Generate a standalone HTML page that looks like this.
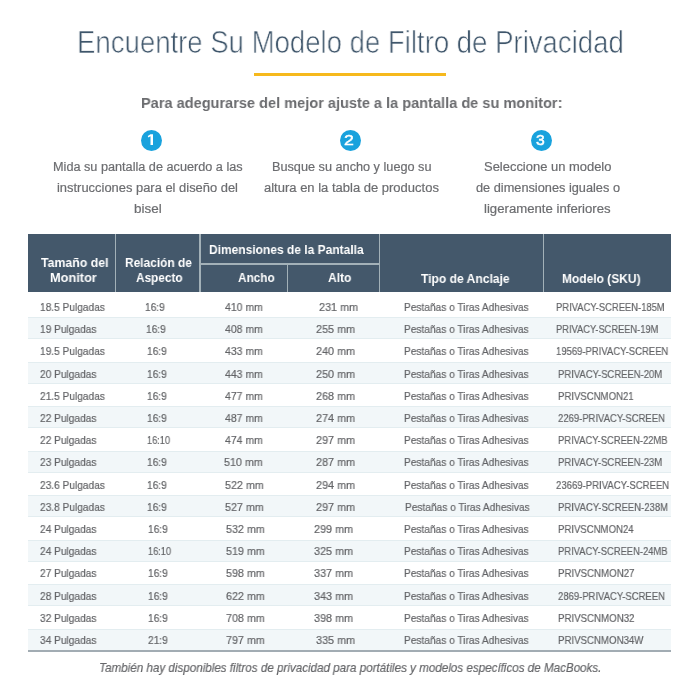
<!DOCTYPE html>
<html><head><meta charset="utf-8"><style>
html,body{margin:0;padding:0;background:#fff;width:700px;height:700px;overflow:hidden;position:relative}
.t{position:absolute;white-space:nowrap;line-height:40px;font-family:'Liberation Sans', sans-serif;transform-origin:0 0;will-change:transform}
.circ{position:absolute;width:21px;height:21px;border-radius:50%;background:#19a2dd;color:#fff;font-family:'Liberation Sans', sans-serif;font-weight:700;font-size:15.5px;line-height:22px;text-align:center}
</style></head><body>
<div style="position:absolute;left:254px;top:73.2px;width:192px;height:2.6px;background:#f6b91d"></div>
<div class="circ" style="left:141px;top:130px"><svg width="21" height="21" viewBox="0 0 21 21" style="position:absolute;left:0;top:0"><path d="M9.5 4.3 L12.0 4.3 L12.0 15.1 L9.5 15.1 L9.5 6.2 L7.2 7.4 L6.8 5.9 Z" fill="#fff"/></svg></div>
<div class="circ" style="left:339.5px;top:130px"></div>
<div class="circ" style="left:531px;top:130px"></div>
<div style="position:absolute;left:28px;top:233.6px;width:642.6px;height:58.9px;background:#44586b"></div>
<div style="position:absolute;left:114.7px;top:233.6px;width:1.6px;height:58.9px;background:#a3b1b8"></div>
<div style="position:absolute;left:199.4px;top:233.6px;width:1.6px;height:58.9px;background:#a3b1b8"></div>
<div style="position:absolute;left:378.8px;top:233.6px;width:1.6px;height:58.9px;background:#a3b1b8"></div>
<div style="position:absolute;left:542.7px;top:233.6px;width:1.6px;height:58.9px;background:#a3b1b8"></div>
<div style="position:absolute;left:201px;top:263.1px;width:177.8px;height:1.7px;background:#a3b1b8"></div>
<div style="position:absolute;left:286.6px;top:264.8px;width:1.6px;height:27.7px;background:#a3b1b8"></div>
<div style="position:absolute;left:28px;width:643px;top:317.00px;height:22.25px;background:#f2f7f9;border-top:1px solid #e3edf0;border-bottom:1px solid #e3edf0;box-sizing:border-box"></div>
<div style="position:absolute;left:28px;width:643px;top:361.50px;height:22.25px;background:#f2f7f9;border-top:1px solid #e3edf0;border-bottom:1px solid #e3edf0;box-sizing:border-box"></div>
<div style="position:absolute;left:28px;width:643px;top:406.00px;height:22.25px;background:#f2f7f9;border-top:1px solid #e3edf0;border-bottom:1px solid #e3edf0;box-sizing:border-box"></div>
<div style="position:absolute;left:28px;width:643px;top:450.50px;height:22.25px;background:#f2f7f9;border-top:1px solid #e3edf0;border-bottom:1px solid #e3edf0;box-sizing:border-box"></div>
<div style="position:absolute;left:28px;width:643px;top:495.00px;height:22.25px;background:#f2f7f9;border-top:1px solid #e3edf0;border-bottom:1px solid #e3edf0;box-sizing:border-box"></div>
<div style="position:absolute;left:28px;width:643px;top:539.50px;height:22.25px;background:#f2f7f9;border-top:1px solid #e3edf0;border-bottom:1px solid #e3edf0;box-sizing:border-box"></div>
<div style="position:absolute;left:28px;width:643px;top:584.00px;height:22.25px;background:#f2f7f9;border-top:1px solid #e3edf0;border-bottom:1px solid #e3edf0;box-sizing:border-box"></div>
<div style="position:absolute;left:28px;width:643px;top:628.50px;height:22.25px;background:#f2f7f9;border-top:1px solid #e3edf0;border-bottom:1px solid #e3edf0;box-sizing:border-box"></div>
<div style="position:absolute;left:28px;top:650px;width:643px;height:1.8px;background:#a2acb3"></div>
<div class="t" style="left:76.82px;top:22.60px;font-size:31px;font-weight:400;font-style:normal;color:#3f566b;transform:scaleX(0.8887);-webkit-text-stroke:0.7px #fff;">Encuentre Su Modelo de Filtro de Privacidad</div>
<div class="t" style="left:141.26px;top:82.60px;font-size:15.5px;font-weight:700;font-style:normal;color:#6b6c6f;transform:scaleX(0.9389);">Para adegurarse del mejor ajuste a la pantalla de su monitor:</div>
<div class="t" style="left:343.96px;top:120.20px;font-size:15.5px;font-weight:400;font-style:normal;color:#ffffff;transform:scaleX(1.1429);-webkit-text-stroke:0.5px #fff;">2</div>
<div class="t" style="left:535.99px;top:120.10px;font-size:15.5px;font-weight:400;font-style:normal;color:#ffffff;transform:scaleX(1.0143);-webkit-text-stroke:0.5px #fff;">3</div>
<div class="t" style="left:52.59px;top:146.70px;font-size:12.5px;font-weight:400;font-style:normal;color:#6c6d70;transform:scaleX(1.0145);-webkit-text-stroke:0.2px currentColor;">Mida su pantalla de acuerdo a las</div>
<div class="t" style="left:57.27px;top:168.20px;font-size:12.5px;font-weight:400;font-style:normal;color:#6c6d70;transform:scaleX(1.0335);-webkit-text-stroke:0.2px currentColor;">instrucciones para el diseño del</div>
<div class="t" style="left:134.03px;top:189.40px;font-size:12.5px;font-weight:400;font-style:normal;color:#6c6d70;transform:scaleX(1.0750);-webkit-text-stroke:0.2px currentColor;">bisel</div>
<div class="t" style="left:271.58px;top:146.50px;font-size:12.5px;font-weight:400;font-style:normal;color:#6c6d70;transform:scaleX(1.0155);-webkit-text-stroke:0.2px currentColor;">Busque su ancho y luego su</div>
<div class="t" style="left:263.90px;top:167.90px;font-size:12.5px;font-weight:400;font-style:normal;color:#6c6d70;transform:scaleX(1.0399);-webkit-text-stroke:0.2px currentColor;">altura en la tabla de productos</div>
<div class="t" style="left:483.66px;top:146.70px;font-size:12.5px;font-weight:400;font-style:normal;color:#6c6d70;transform:scaleX(1.0361);-webkit-text-stroke:0.2px currentColor;">Seleccione un modelo</div>
<div class="t" style="left:476.10px;top:167.90px;font-size:12.5px;font-weight:400;font-style:normal;color:#6c6d70;transform:scaleX(1.0206);-webkit-text-stroke:0.2px currentColor;">de dimensiones iguales o</div>
<div class="t" style="left:484.25px;top:188.90px;font-size:12.5px;font-weight:400;font-style:normal;color:#6c6d70;transform:scaleX(1.0538);-webkit-text-stroke:0.2px currentColor;">ligeramente inferiores</div>
<div class="t" style="left:40.70px;top:242.60px;font-size:13px;font-weight:700;font-style:normal;color:#ffffff;transform:scaleX(0.9465);">Tamaño del</div>
<div class="t" style="left:50.42px;top:258.00px;font-size:13px;font-weight:700;font-style:normal;color:#ffffff;transform:scaleX(0.9830);">Monitor</div>
<div class="t" style="left:125.18px;top:242.60px;font-size:13px;font-weight:700;font-style:normal;color:#ffffff;transform:scaleX(0.9167);">Relación de</div>
<div class="t" style="left:135.70px;top:257.50px;font-size:13px;font-weight:700;font-style:normal;color:#ffffff;transform:scaleX(0.9098);">Aspecto</div>
<div class="t" style="left:209.38px;top:229.90px;font-size:13px;font-weight:700;font-style:normal;color:#ffffff;transform:scaleX(0.9222);">Dimensiones de la Pantalla</div>
<div class="t" style="left:238.30px;top:257.90px;font-size:13px;font-weight:700;font-style:normal;color:#ffffff;transform:scaleX(0.9075);">Ancho</div>
<div class="t" style="left:327.90px;top:257.90px;font-size:13px;font-weight:700;font-style:normal;color:#ffffff;transform:scaleX(0.9280);">Alto</div>
<div class="t" style="left:420.90px;top:259.30px;font-size:13px;font-weight:700;font-style:normal;color:#ffffff;transform:scaleX(0.9295);">Tipo de Anclaje</div>
<div class="t" style="left:561.98px;top:258.90px;font-size:13px;font-weight:700;font-style:normal;color:#ffffff;transform:scaleX(0.9214);">Modelo (SKU)</div>
<div class="t" style="left:39.72px;top:287.20px;font-size:11.5px;font-weight:400;font-style:normal;color:#636467;transform:scaleX(0.8821);-webkit-text-stroke:0.2px currentColor;">18.5 Pulgadas</div>
<div class="t" style="left:144.62px;top:287.20px;font-size:11.5px;font-weight:400;font-style:normal;color:#636467;transform:scaleX(0.8821);-webkit-text-stroke:0.2px currentColor;">16:9</div>
<div class="t" style="left:224.90px;top:287.20px;font-size:11.5px;font-weight:400;font-style:normal;color:#636467;transform:scaleX(0.9098);-webkit-text-stroke:0.2px currentColor;">410 mm</div>
<div class="t" style="left:318.76px;top:287.20px;font-size:11.5px;font-weight:400;font-style:normal;color:#636467;transform:scaleX(0.9400);-webkit-text-stroke:0.2px currentColor;">231 mm</div>
<div class="t" style="left:404.12px;top:287.20px;font-size:11.5px;font-weight:400;font-style:normal;color:#636467;transform:scaleX(0.8821);-webkit-text-stroke:0.2px currentColor;">Pestañas o Tiras Adhesivas</div>
<div class="t" style="left:556.38px;top:287.20px;font-size:11.5px;font-weight:400;font-style:normal;color:#636467;transform:scaleX(0.8176);-webkit-text-stroke:0.2px currentColor;">PRIVACY-SCREEN-185M</div>
<div class="t" style="left:39.72px;top:309.20px;font-size:11.5px;font-weight:400;font-style:normal;color:#636467;transform:scaleX(0.8821);-webkit-text-stroke:0.2px currentColor;">19 Pulgadas</div>
<div class="t" style="left:146.02px;top:309.20px;font-size:11.5px;font-weight:400;font-style:normal;color:#636467;transform:scaleX(0.8821);-webkit-text-stroke:0.2px currentColor;">16:9</div>
<div class="t" style="left:224.60px;top:309.20px;font-size:11.5px;font-weight:400;font-style:normal;color:#636467;transform:scaleX(0.9098);-webkit-text-stroke:0.2px currentColor;">408 mm</div>
<div class="t" style="left:316.26px;top:309.20px;font-size:11.5px;font-weight:400;font-style:normal;color:#636467;transform:scaleX(0.9400);-webkit-text-stroke:0.2px currentColor;">255 mm</div>
<div class="t" style="left:404.12px;top:309.20px;font-size:11.5px;font-weight:400;font-style:normal;color:#636467;transform:scaleX(0.8821);-webkit-text-stroke:0.2px currentColor;">Pestañas o Tiras Adhesivas</div>
<div class="t" style="left:556.39px;top:309.20px;font-size:11.5px;font-weight:400;font-style:normal;color:#636467;transform:scaleX(0.8088);-webkit-text-stroke:0.2px currentColor;">PRIVACY-SCREEN-19M</div>
<div class="t" style="left:39.72px;top:331.40px;font-size:11.5px;font-weight:400;font-style:normal;color:#636467;transform:scaleX(0.8821);-webkit-text-stroke:0.2px currentColor;">19.5 Pulgadas</div>
<div class="t" style="left:146.82px;top:331.40px;font-size:11.5px;font-weight:400;font-style:normal;color:#636467;transform:scaleX(0.8821);-webkit-text-stroke:0.2px currentColor;">16:9</div>
<div class="t" style="left:224.60px;top:331.40px;font-size:11.5px;font-weight:400;font-style:normal;color:#636467;transform:scaleX(0.9098);-webkit-text-stroke:0.2px currentColor;">433 mm</div>
<div class="t" style="left:316.26px;top:331.40px;font-size:11.5px;font-weight:400;font-style:normal;color:#636467;transform:scaleX(0.9400);-webkit-text-stroke:0.2px currentColor;">240 mm</div>
<div class="t" style="left:404.12px;top:331.40px;font-size:11.5px;font-weight:400;font-style:normal;color:#636467;transform:scaleX(0.8821);-webkit-text-stroke:0.2px currentColor;">Pestañas o Tiras Adhesivas</div>
<div class="t" style="left:556.38px;top:331.40px;font-size:11.5px;font-weight:400;font-style:normal;color:#636467;transform:scaleX(0.8246);-webkit-text-stroke:0.2px currentColor;">19569-PRIVACY-SCREEN</div>
<div class="t" style="left:39.72px;top:353.60px;font-size:11.5px;font-weight:400;font-style:normal;color:#636467;transform:scaleX(0.8821);-webkit-text-stroke:0.2px currentColor;">20 Pulgadas</div>
<div class="t" style="left:146.82px;top:353.60px;font-size:11.5px;font-weight:400;font-style:normal;color:#636467;transform:scaleX(0.8821);-webkit-text-stroke:0.2px currentColor;">16:9</div>
<div class="t" style="left:224.60px;top:353.60px;font-size:11.5px;font-weight:400;font-style:normal;color:#636467;transform:scaleX(0.9098);-webkit-text-stroke:0.2px currentColor;">443 mm</div>
<div class="t" style="left:316.26px;top:353.60px;font-size:11.5px;font-weight:400;font-style:normal;color:#636467;transform:scaleX(0.9400);-webkit-text-stroke:0.2px currentColor;">250 mm</div>
<div class="t" style="left:404.12px;top:353.60px;font-size:11.5px;font-weight:400;font-style:normal;color:#636467;transform:scaleX(0.8821);-webkit-text-stroke:0.2px currentColor;">Pestañas o Tiras Adhesivas</div>
<div class="t" style="left:558.48px;top:353.60px;font-size:11.5px;font-weight:400;font-style:normal;color:#636467;transform:scaleX(0.8232);-webkit-text-stroke:0.2px currentColor;">PRIVACY-SCREEN-20M</div>
<div class="t" style="left:39.72px;top:375.80px;font-size:11.5px;font-weight:400;font-style:normal;color:#636467;transform:scaleX(0.8821);-webkit-text-stroke:0.2px currentColor;">21.5 Pulgadas</div>
<div class="t" style="left:146.82px;top:375.80px;font-size:11.5px;font-weight:400;font-style:normal;color:#636467;transform:scaleX(0.8821);-webkit-text-stroke:0.2px currentColor;">16:9</div>
<div class="t" style="left:224.60px;top:375.80px;font-size:11.5px;font-weight:400;font-style:normal;color:#636467;transform:scaleX(0.9098);-webkit-text-stroke:0.2px currentColor;">477 mm</div>
<div class="t" style="left:316.26px;top:375.80px;font-size:11.5px;font-weight:400;font-style:normal;color:#636467;transform:scaleX(0.9400);-webkit-text-stroke:0.2px currentColor;">268 mm</div>
<div class="t" style="left:404.12px;top:375.80px;font-size:11.5px;font-weight:400;font-style:normal;color:#636467;transform:scaleX(0.8821);-webkit-text-stroke:0.2px currentColor;">Pestañas o Tiras Adhesivas</div>
<div class="t" style="left:558.47px;top:375.80px;font-size:11.5px;font-weight:400;font-style:normal;color:#636467;transform:scaleX(0.8337);-webkit-text-stroke:0.2px currentColor;">PRIVSCNMON21</div>
<div class="t" style="left:39.72px;top:398.00px;font-size:11.5px;font-weight:400;font-style:normal;color:#636467;transform:scaleX(0.8821);-webkit-text-stroke:0.2px currentColor;">22 Pulgadas</div>
<div class="t" style="left:146.82px;top:398.00px;font-size:11.5px;font-weight:400;font-style:normal;color:#636467;transform:scaleX(0.8821);-webkit-text-stroke:0.2px currentColor;">16:9</div>
<div class="t" style="left:224.60px;top:398.00px;font-size:11.5px;font-weight:400;font-style:normal;color:#636467;transform:scaleX(0.9098);-webkit-text-stroke:0.2px currentColor;">487 mm</div>
<div class="t" style="left:316.26px;top:398.00px;font-size:11.5px;font-weight:400;font-style:normal;color:#636467;transform:scaleX(0.9400);-webkit-text-stroke:0.2px currentColor;">274 mm</div>
<div class="t" style="left:404.12px;top:398.00px;font-size:11.5px;font-weight:400;font-style:normal;color:#636467;transform:scaleX(0.8821);-webkit-text-stroke:0.2px currentColor;">Pestañas o Tiras Adhesivas</div>
<div class="t" style="left:558.48px;top:398.00px;font-size:11.5px;font-weight:400;font-style:normal;color:#636467;transform:scaleX(0.8242);-webkit-text-stroke:0.2px currentColor;">2269-PRIVACY-SCREEN</div>
<div class="t" style="left:39.72px;top:420.20px;font-size:11.5px;font-weight:400;font-style:normal;color:#636467;transform:scaleX(0.8821);-webkit-text-stroke:0.2px currentColor;">22 Pulgadas</div>
<div class="t" style="left:146.90px;top:420.20px;font-size:11.5px;font-weight:400;font-style:normal;color:#636467;transform:scaleX(0.8000);-webkit-text-stroke:0.2px currentColor;">16:10</div>
<div class="t" style="left:224.60px;top:420.20px;font-size:11.5px;font-weight:400;font-style:normal;color:#636467;transform:scaleX(0.9098);-webkit-text-stroke:0.2px currentColor;">474 mm</div>
<div class="t" style="left:316.26px;top:420.20px;font-size:11.5px;font-weight:400;font-style:normal;color:#636467;transform:scaleX(0.9400);-webkit-text-stroke:0.2px currentColor;">297 mm</div>
<div class="t" style="left:404.12px;top:420.20px;font-size:11.5px;font-weight:400;font-style:normal;color:#636467;transform:scaleX(0.8821);-webkit-text-stroke:0.2px currentColor;">Pestañas o Tiras Adhesivas</div>
<div class="t" style="left:558.48px;top:420.20px;font-size:11.5px;font-weight:400;font-style:normal;color:#636467;transform:scaleX(0.8158);-webkit-text-stroke:0.2px currentColor;">PRIVACY-SCREEN-22MB</div>
<div class="t" style="left:39.72px;top:442.40px;font-size:11.5px;font-weight:400;font-style:normal;color:#636467;transform:scaleX(0.8821);-webkit-text-stroke:0.2px currentColor;">23 Pulgadas</div>
<div class="t" style="left:146.82px;top:442.40px;font-size:11.5px;font-weight:400;font-style:normal;color:#636467;transform:scaleX(0.8821);-webkit-text-stroke:0.2px currentColor;">16:9</div>
<div class="t" style="left:223.67px;top:442.40px;font-size:11.5px;font-weight:400;font-style:normal;color:#636467;transform:scaleX(0.9325);-webkit-text-stroke:0.2px currentColor;">510 mm</div>
<div class="t" style="left:316.26px;top:442.40px;font-size:11.5px;font-weight:400;font-style:normal;color:#636467;transform:scaleX(0.9400);-webkit-text-stroke:0.2px currentColor;">287 mm</div>
<div class="t" style="left:404.12px;top:442.40px;font-size:11.5px;font-weight:400;font-style:normal;color:#636467;transform:scaleX(0.8821);-webkit-text-stroke:0.2px currentColor;">Pestañas o Tiras Adhesivas</div>
<div class="t" style="left:558.48px;top:442.40px;font-size:11.5px;font-weight:400;font-style:normal;color:#636467;transform:scaleX(0.8232);-webkit-text-stroke:0.2px currentColor;">PRIVACY-SCREEN-23M</div>
<div class="t" style="left:39.72px;top:464.60px;font-size:11.5px;font-weight:400;font-style:normal;color:#636467;transform:scaleX(0.8821);-webkit-text-stroke:0.2px currentColor;">23.6 Pulgadas</div>
<div class="t" style="left:147.42px;top:464.60px;font-size:11.5px;font-weight:400;font-style:normal;color:#636467;transform:scaleX(0.8821);-webkit-text-stroke:0.2px currentColor;">16:9</div>
<div class="t" style="left:224.77px;top:464.60px;font-size:11.5px;font-weight:400;font-style:normal;color:#636467;transform:scaleX(0.9325);-webkit-text-stroke:0.2px currentColor;">522 mm</div>
<div class="t" style="left:316.26px;top:464.60px;font-size:11.5px;font-weight:400;font-style:normal;color:#636467;transform:scaleX(0.9400);-webkit-text-stroke:0.2px currentColor;">294 mm</div>
<div class="t" style="left:404.12px;top:464.60px;font-size:11.5px;font-weight:400;font-style:normal;color:#636467;transform:scaleX(0.8821);-webkit-text-stroke:0.2px currentColor;">Pestañas o Tiras Adhesivas</div>
<div class="t" style="left:556.37px;top:464.60px;font-size:11.5px;font-weight:400;font-style:normal;color:#636467;transform:scaleX(0.8313);-webkit-text-stroke:0.2px currentColor;">23669-PRIVACY-SCREEN</div>
<div class="t" style="left:39.72px;top:486.80px;font-size:11.5px;font-weight:400;font-style:normal;color:#636467;transform:scaleX(0.8821);-webkit-text-stroke:0.2px currentColor;">23.8 Pulgadas</div>
<div class="t" style="left:147.42px;top:486.80px;font-size:11.5px;font-weight:400;font-style:normal;color:#636467;transform:scaleX(0.8821);-webkit-text-stroke:0.2px currentColor;">16:9</div>
<div class="t" style="left:224.77px;top:486.80px;font-size:11.5px;font-weight:400;font-style:normal;color:#636467;transform:scaleX(0.9325);-webkit-text-stroke:0.2px currentColor;">527 mm</div>
<div class="t" style="left:316.26px;top:486.80px;font-size:11.5px;font-weight:400;font-style:normal;color:#636467;transform:scaleX(0.9400);-webkit-text-stroke:0.2px currentColor;">297 mm</div>
<div class="t" style="left:405.42px;top:486.80px;font-size:11.5px;font-weight:400;font-style:normal;color:#636467;transform:scaleX(0.8821);-webkit-text-stroke:0.2px currentColor;">Pestañas o Tiras Adhesivas</div>
<div class="t" style="left:558.47px;top:486.80px;font-size:11.5px;font-weight:400;font-style:normal;color:#636467;transform:scaleX(0.8282);-webkit-text-stroke:0.2px currentColor;">PRIVACY-SCREEN-238M</div>
<div class="t" style="left:39.72px;top:509.00px;font-size:11.5px;font-weight:400;font-style:normal;color:#636467;transform:scaleX(0.8821);-webkit-text-stroke:0.2px currentColor;">24 Pulgadas</div>
<div class="t" style="left:148.32px;top:509.00px;font-size:11.5px;font-weight:400;font-style:normal;color:#636467;transform:scaleX(0.8821);-webkit-text-stroke:0.2px currentColor;">16:9</div>
<div class="t" style="left:225.97px;top:509.00px;font-size:11.5px;font-weight:400;font-style:normal;color:#636467;transform:scaleX(0.9325);-webkit-text-stroke:0.2px currentColor;">532 mm</div>
<div class="t" style="left:313.96px;top:509.00px;font-size:11.5px;font-weight:400;font-style:normal;color:#636467;transform:scaleX(0.9400);-webkit-text-stroke:0.2px currentColor;">299 mm</div>
<div class="t" style="left:404.12px;top:509.00px;font-size:11.5px;font-weight:400;font-style:normal;color:#636467;transform:scaleX(0.8821);-webkit-text-stroke:0.2px currentColor;">Pestañas o Tiras Adhesivas</div>
<div class="t" style="left:558.47px;top:509.00px;font-size:11.5px;font-weight:400;font-style:normal;color:#636467;transform:scaleX(0.8333);-webkit-text-stroke:0.2px currentColor;">PRIVSCNMON24</div>
<div class="t" style="left:39.72px;top:531.20px;font-size:11.5px;font-weight:400;font-style:normal;color:#636467;transform:scaleX(0.8821);-webkit-text-stroke:0.2px currentColor;">24 Pulgadas</div>
<div class="t" style="left:148.40px;top:531.20px;font-size:11.5px;font-weight:400;font-style:normal;color:#636467;transform:scaleX(0.8000);-webkit-text-stroke:0.2px currentColor;">16:10</div>
<div class="t" style="left:225.97px;top:531.20px;font-size:11.5px;font-weight:400;font-style:normal;color:#636467;transform:scaleX(0.9325);-webkit-text-stroke:0.2px currentColor;">519 mm</div>
<div class="t" style="left:313.96px;top:531.20px;font-size:11.5px;font-weight:400;font-style:normal;color:#636467;transform:scaleX(0.9400);-webkit-text-stroke:0.2px currentColor;">325 mm</div>
<div class="t" style="left:404.12px;top:531.20px;font-size:11.5px;font-weight:400;font-style:normal;color:#636467;transform:scaleX(0.8821);-webkit-text-stroke:0.2px currentColor;">Pestañas o Tiras Adhesivas</div>
<div class="t" style="left:558.48px;top:531.20px;font-size:11.5px;font-weight:400;font-style:normal;color:#636467;transform:scaleX(0.8158);-webkit-text-stroke:0.2px currentColor;">PRIVACY-SCREEN-24MB</div>
<div class="t" style="left:39.72px;top:553.40px;font-size:11.5px;font-weight:400;font-style:normal;color:#636467;transform:scaleX(0.8821);-webkit-text-stroke:0.2px currentColor;">27 Pulgadas</div>
<div class="t" style="left:148.32px;top:553.40px;font-size:11.5px;font-weight:400;font-style:normal;color:#636467;transform:scaleX(0.8821);-webkit-text-stroke:0.2px currentColor;">16:9</div>
<div class="t" style="left:225.97px;top:553.40px;font-size:11.5px;font-weight:400;font-style:normal;color:#636467;transform:scaleX(0.9325);-webkit-text-stroke:0.2px currentColor;">598 mm</div>
<div class="t" style="left:313.96px;top:553.40px;font-size:11.5px;font-weight:400;font-style:normal;color:#636467;transform:scaleX(0.9400);-webkit-text-stroke:0.2px currentColor;">337 mm</div>
<div class="t" style="left:404.12px;top:553.40px;font-size:11.5px;font-weight:400;font-style:normal;color:#636467;transform:scaleX(0.8821);-webkit-text-stroke:0.2px currentColor;">Pestañas o Tiras Adhesivas</div>
<div class="t" style="left:558.46px;top:553.40px;font-size:11.5px;font-weight:400;font-style:normal;color:#636467;transform:scaleX(0.8427);-webkit-text-stroke:0.2px currentColor;">PRIVSCNMON27</div>
<div class="t" style="left:39.72px;top:575.60px;font-size:11.5px;font-weight:400;font-style:normal;color:#636467;transform:scaleX(0.8821);-webkit-text-stroke:0.2px currentColor;">28 Pulgadas</div>
<div class="t" style="left:148.32px;top:575.60px;font-size:11.5px;font-weight:400;font-style:normal;color:#636467;transform:scaleX(0.8821);-webkit-text-stroke:0.2px currentColor;">16:9</div>
<div class="t" style="left:225.97px;top:575.60px;font-size:11.5px;font-weight:400;font-style:normal;color:#636467;transform:scaleX(0.9325);-webkit-text-stroke:0.2px currentColor;">622 mm</div>
<div class="t" style="left:313.96px;top:575.60px;font-size:11.5px;font-weight:400;font-style:normal;color:#636467;transform:scaleX(0.9400);-webkit-text-stroke:0.2px currentColor;">343 mm</div>
<div class="t" style="left:404.12px;top:575.60px;font-size:11.5px;font-weight:400;font-style:normal;color:#636467;transform:scaleX(0.8821);-webkit-text-stroke:0.2px currentColor;">Pestañas o Tiras Adhesivas</div>
<div class="t" style="left:558.48px;top:575.60px;font-size:11.5px;font-weight:400;font-style:normal;color:#636467;transform:scaleX(0.8242);-webkit-text-stroke:0.2px currentColor;">2869-PRIVACY-SCREEN</div>
<div class="t" style="left:39.72px;top:597.80px;font-size:11.5px;font-weight:400;font-style:normal;color:#636467;transform:scaleX(0.8821);-webkit-text-stroke:0.2px currentColor;">32 Pulgadas</div>
<div class="t" style="left:148.32px;top:597.80px;font-size:11.5px;font-weight:400;font-style:normal;color:#636467;transform:scaleX(0.8821);-webkit-text-stroke:0.2px currentColor;">16:9</div>
<div class="t" style="left:225.97px;top:597.80px;font-size:11.5px;font-weight:400;font-style:normal;color:#636467;transform:scaleX(0.9325);-webkit-text-stroke:0.2px currentColor;">708 mm</div>
<div class="t" style="left:313.96px;top:597.80px;font-size:11.5px;font-weight:400;font-style:normal;color:#636467;transform:scaleX(0.9400);-webkit-text-stroke:0.2px currentColor;">398 mm</div>
<div class="t" style="left:404.12px;top:597.80px;font-size:11.5px;font-weight:400;font-style:normal;color:#636467;transform:scaleX(0.8821);-webkit-text-stroke:0.2px currentColor;">Pestañas o Tiras Adhesivas</div>
<div class="t" style="left:558.46px;top:597.80px;font-size:11.5px;font-weight:400;font-style:normal;color:#636467;transform:scaleX(0.8427);-webkit-text-stroke:0.2px currentColor;">PRIVSCNMON32</div>
<div class="t" style="left:39.72px;top:620.00px;font-size:11.5px;font-weight:400;font-style:normal;color:#636467;transform:scaleX(0.8821);-webkit-text-stroke:0.2px currentColor;">34 Pulgadas</div>
<div class="t" style="left:148.32px;top:620.00px;font-size:11.5px;font-weight:400;font-style:normal;color:#636467;transform:scaleX(0.8821);-webkit-text-stroke:0.2px currentColor;">21:9</div>
<div class="t" style="left:225.97px;top:620.00px;font-size:11.5px;font-weight:400;font-style:normal;color:#636467;transform:scaleX(0.9325);-webkit-text-stroke:0.2px currentColor;">797 mm</div>
<div class="t" style="left:316.26px;top:620.00px;font-size:11.5px;font-weight:400;font-style:normal;color:#636467;transform:scaleX(0.9400);-webkit-text-stroke:0.2px currentColor;">335 mm</div>
<div class="t" style="left:404.12px;top:620.00px;font-size:11.5px;font-weight:400;font-style:normal;color:#636467;transform:scaleX(0.8821);-webkit-text-stroke:0.2px currentColor;">Pestañas o Tiras Adhesivas</div>
<div class="t" style="left:558.46px;top:620.00px;font-size:11.5px;font-weight:400;font-style:normal;color:#636467;transform:scaleX(0.8406);-webkit-text-stroke:0.2px currentColor;">PRIVSCNMON34W</div>
<div class="t" style="left:98.81px;top:647.70px;font-size:13px;font-weight:400;font-style:italic;color:#656669;transform:scaleX(0.8945);-webkit-text-stroke:0.2px currentColor;">También hay disponibles filtros de privacidad para portátiles y modelos específicos de MacBooks.</div>
</body></html>
